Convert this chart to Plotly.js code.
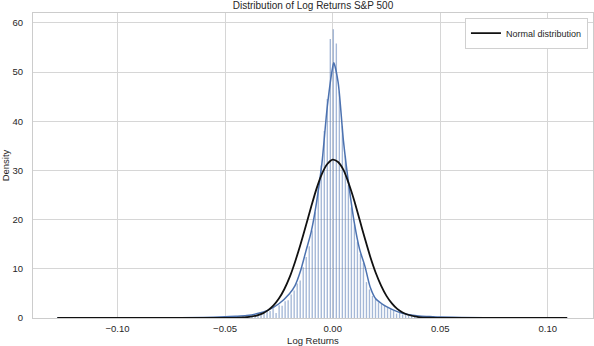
<!DOCTYPE html>
<html>
<head>
<meta charset="utf-8">
<script src="https://cdn.plot.ly/plotly-3.0.1.min.js"></script>
<style>
  html, body { margin: 0; padding: 0; background: #fff; }
  #graph { width: 594px; height: 346px; }
</style>
</head>
<body>
<div id="graph"></div>
<script>
// histogram (density), bins of width binWidth starting at binStart
var binStart = -0.0487;
var binWidth = 0.0014;
var binDensity = [
    0.1, 0.2, 0.1, 0.3, 0.2, 0.4, 0.3, 0.5, 0.6, 0.5,
    0.9, 1.0, 1.2, 1.6, 1.4, 2.0, 1.0, 2.6, 2.5, 3.4,
    3.6, 4.8, 5.6, 7.0, 7.6, 10.3, 12.4, 14.6, 17.8, 21.5,
    26.5, 31.0, 38.0, 44.5, 56.7, 58.7, 55.8, 46.0, 39.0, 33.0,
    27.0, 22.5, 19.0, 15.5, 13.0, 11.2, 7.3, 5.8, 4.5, 3.9,
    3.2, 2.9, 2.5, 2.1, 1.8, 1.5, 0.9, 1.1, 0.7, 0.6,
    0.5, 0.4, 0.3, 0.4, 0.2, 0.2, 0.3, 0.1, 0.2, 0.1
];

// kde curve
var kdeX = [-0.128, -0.1, -0.08, -0.06, -0.05, -0.045, -0.04, -0.035, -0.03, -0.025,
    -0.02, -0.0175, -0.015, -0.0125, -0.01, -0.0075, -0.005, -0.0025, 0, 0.0005,
    0.0025, 0.005, 0.0075, 0.01, 0.0125, 0.015, 0.0175, 0.02, 0.0225, 0.025,
    0.03, 0.035, 0.04, 0.045, 0.05, 0.06, 0.08, 0.1, 0.109];
var kdeY = [0.02, 0.02, 0.05, 0.12, 0.25, 0.35, 0.5, 0.9, 1.6, 2.9,
    5.0, 6.6, 9.5, 13.5, 17.5, 23.5, 31.5, 43.0, 51.0, 51.9,
    48.0, 36.0, 27.0, 19.5, 14.0, 10.5, 6.2, 3.9, 3.0, 2.3,
    1.3, 0.7, 0.4, 0.3, 0.2, 0.1, 0.04, 0.02, 0.02];

// normal distribution curve
var normX = [-0.128, -0.06, -0.05, -0.045, -0.04, -0.035, -0.0325, -0.03, -0.0275, -0.025,
    -0.0225, -0.02, -0.0175, -0.015, -0.0125, -0.01, -0.0075, -0.005, -0.0025, 0,
    0.0025, 0.005, 0.0075, 0.01, 0.0125, 0.015, 0.0175, 0.02, 0.0225, 0.025,
    0.0275, 0.03, 0.0325, 0.035, 0.04, 0.045, 0.05, 0.06, 0.109];
var normY = [0, 0, 0.01, 0.04, 0.16, 0.55, 0.95, 1.6, 2.56, 3.95,
    5.85, 8.3, 11.4, 14.9, 18.7, 22.6, 26.3, 29.3, 31.3, 32.2,
    31.7, 30.1, 27.3, 23.9, 20.0, 16.1, 12.4, 9.2, 6.6, 4.5,
    2.96, 1.86, 1.13, 0.66, 0.2, 0.05, 0.01, 0, 0];

var xTicks = [-0.10, -0.05, 0.00, 0.05, 0.10];
var yTicks = [0, 10, 20, 30, 40, 50, 60];

var hist = {
    type: 'bar',
    x0: binStart,
    dx: binWidth,
    y: binDensity,
    marker: {color: 'rgba(76,114,176,0.5)', line: {width: 0}},
    showlegend: false,
    hoverinfo: 'skip'
};
var kde = {
    type: 'scatter',
    mode: 'lines',
    x: kdeX,
    y: kdeY,
    line: {color: '#4c72b0', width: 1.5, shape: 'spline', smoothing: 0.8},
    showlegend: false,
    hoverinfo: 'skip'
};
var norm = {
    type: 'scatter',
    mode: 'lines',
    name: 'Normal distribution',
    x: normX,
    y: normY,
    line: {color: '#111111', width: 1.8, shape: 'spline', smoothing: 0.8}
};

var layout = {
    width: 594,
    height: 346,
    margin: {l: 33, r: 1, t: 13, b: 28},
    paper_bgcolor: '#ffffff',
    plot_bgcolor: '#ffffff',
    font: {family: 'Liberation Sans, Arial, sans-serif', size: 9.5, color: '#262626'},
    bargap: 0.55,
    title: {
        text: 'Distribution of Log Returns S&P 500',
        font: {size: 10, color: '#262626'},
        x: 0.5, xref: 'paper',
        y: 0.984, yref: 'container', yanchor: 'middle'
    },
    showlegend: true,
    legend: {
        x: 0.991, y: 0.985, xanchor: 'right', yanchor: 'top',
        bgcolor: '#ffffff', bordercolor: '#d0d0d0', borderwidth: 1,
        itemwidth: 30,
        font: {size: 9}
    },
    xaxis: {
        title: {text: 'Log Returns', standoff: 7, font: {size: 9.5}},
        range: [-0.1393, 0.1210],
        tickvals: xTicks,
        tickformat: '.2f',
        ticks: '',
        ticklabelstandoff: 2,
        showgrid: true,
        gridcolor: '#d6d6d6',
        zeroline: false,
        showline: true,
        linecolor: '#cccccc',
        linewidth: 1,
        mirror: true
    },
    yaxis: {
        title: {text: 'Density', standoff: 6, font: {size: 9.5}},
        range: [0, 62.0],
        tickvals: yTicks,
        ticks: '',
        ticklabelstandoff: 7,
        showgrid: true,
        gridcolor: '#d6d6d6',
        zeroline: false,
        showline: true,
        linecolor: '#cccccc',
        linewidth: 1,
        mirror: true
    }
};

var config = {displayModeBar: false, staticPlot: true};
Plotly.newPlot('graph', [hist, kde, norm], layout, config);
</script>
</body>
</html>
